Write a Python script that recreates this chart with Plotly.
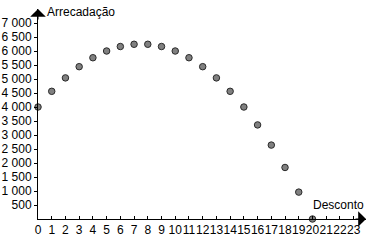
import plotly.graph_objects as go

desconto = list(range(0, 21))
arrecadacao = [4000, 4560, 5040, 5440, 5760, 6000, 6160, 6240, 6240, 6160, 6000,
               5760, 5440, 5040, 4560, 4000, 3360, 2640, 1840, 960, 0]
x_ticks = list(range(0, 24))
y_ticks = list(range(500, 7001, 500))
y_ticktext = [f"{v:,}".replace(",", " ") for v in y_ticks]

fig = go.Figure()
fig.add_trace(go.Scatter(
    x=desconto, y=arrecadacao, mode="markers",
    marker=dict(size=6.5, color="#808080", line=dict(color="#2a2a2a", width=1)),
    cliponaxis=False, showlegend=False))

font = dict(family="Liberation Sans, Arial, sans-serif", size=12, color="black")
fig.update_layout(
    width=380, height=243,
    margin=dict(l=38, r=14, t=9, b=24),
    paper_bgcolor="white", plot_bgcolor="white",
    font=font,
    xaxis=dict(range=[0, 23.9], showgrid=False, zeroline=False, showline=True,
               linecolor="black", linewidth=1, ticks="inside", ticklen=3,
               tickcolor="black", tickvals=x_ticks, ticktext=[str(v) for v in x_ticks],
               tickangle=0, automargin=False,
               tickfont=dict(size=12), fixedrange=True),
    yaxis=dict(range=[0, 7500], showgrid=False, zeroline=False, showline=True,
               linecolor="black", linewidth=1, ticks="outside", ticklen=3,
               tickcolor="black", tickvals=y_ticks, ticktext=y_ticktext,
               automargin=False,
               tickfont=dict(size=12), fixedrange=True),
    annotations=[
        dict(xref="paper", yref="paper", x=0, y=1, ax=0, ay=12, text="",
             showarrow=True, arrowhead=1, arrowsize=2.6, arrowwidth=1, arrowcolor="black"),
        dict(xref="paper", yref="paper", x=1, y=0, ax=-12, ay=0, text="",
             showarrow=True, arrowhead=1, arrowsize=2.6, arrowwidth=1, arrowcolor="black"),
        dict(xref="paper", yref="paper", x=0, y=1, xanchor="left", yanchor="middle",
             xshift=7, yshift=-3, text="Arrecadação", showarrow=False, font=font),
        dict(xref="paper", yref="paper", x=1, y=0, xanchor="right", yanchor="bottom",
             yshift=5, text="Desconto", showarrow=False, font=font),
    ],
)
fig.write_html("out.html")
